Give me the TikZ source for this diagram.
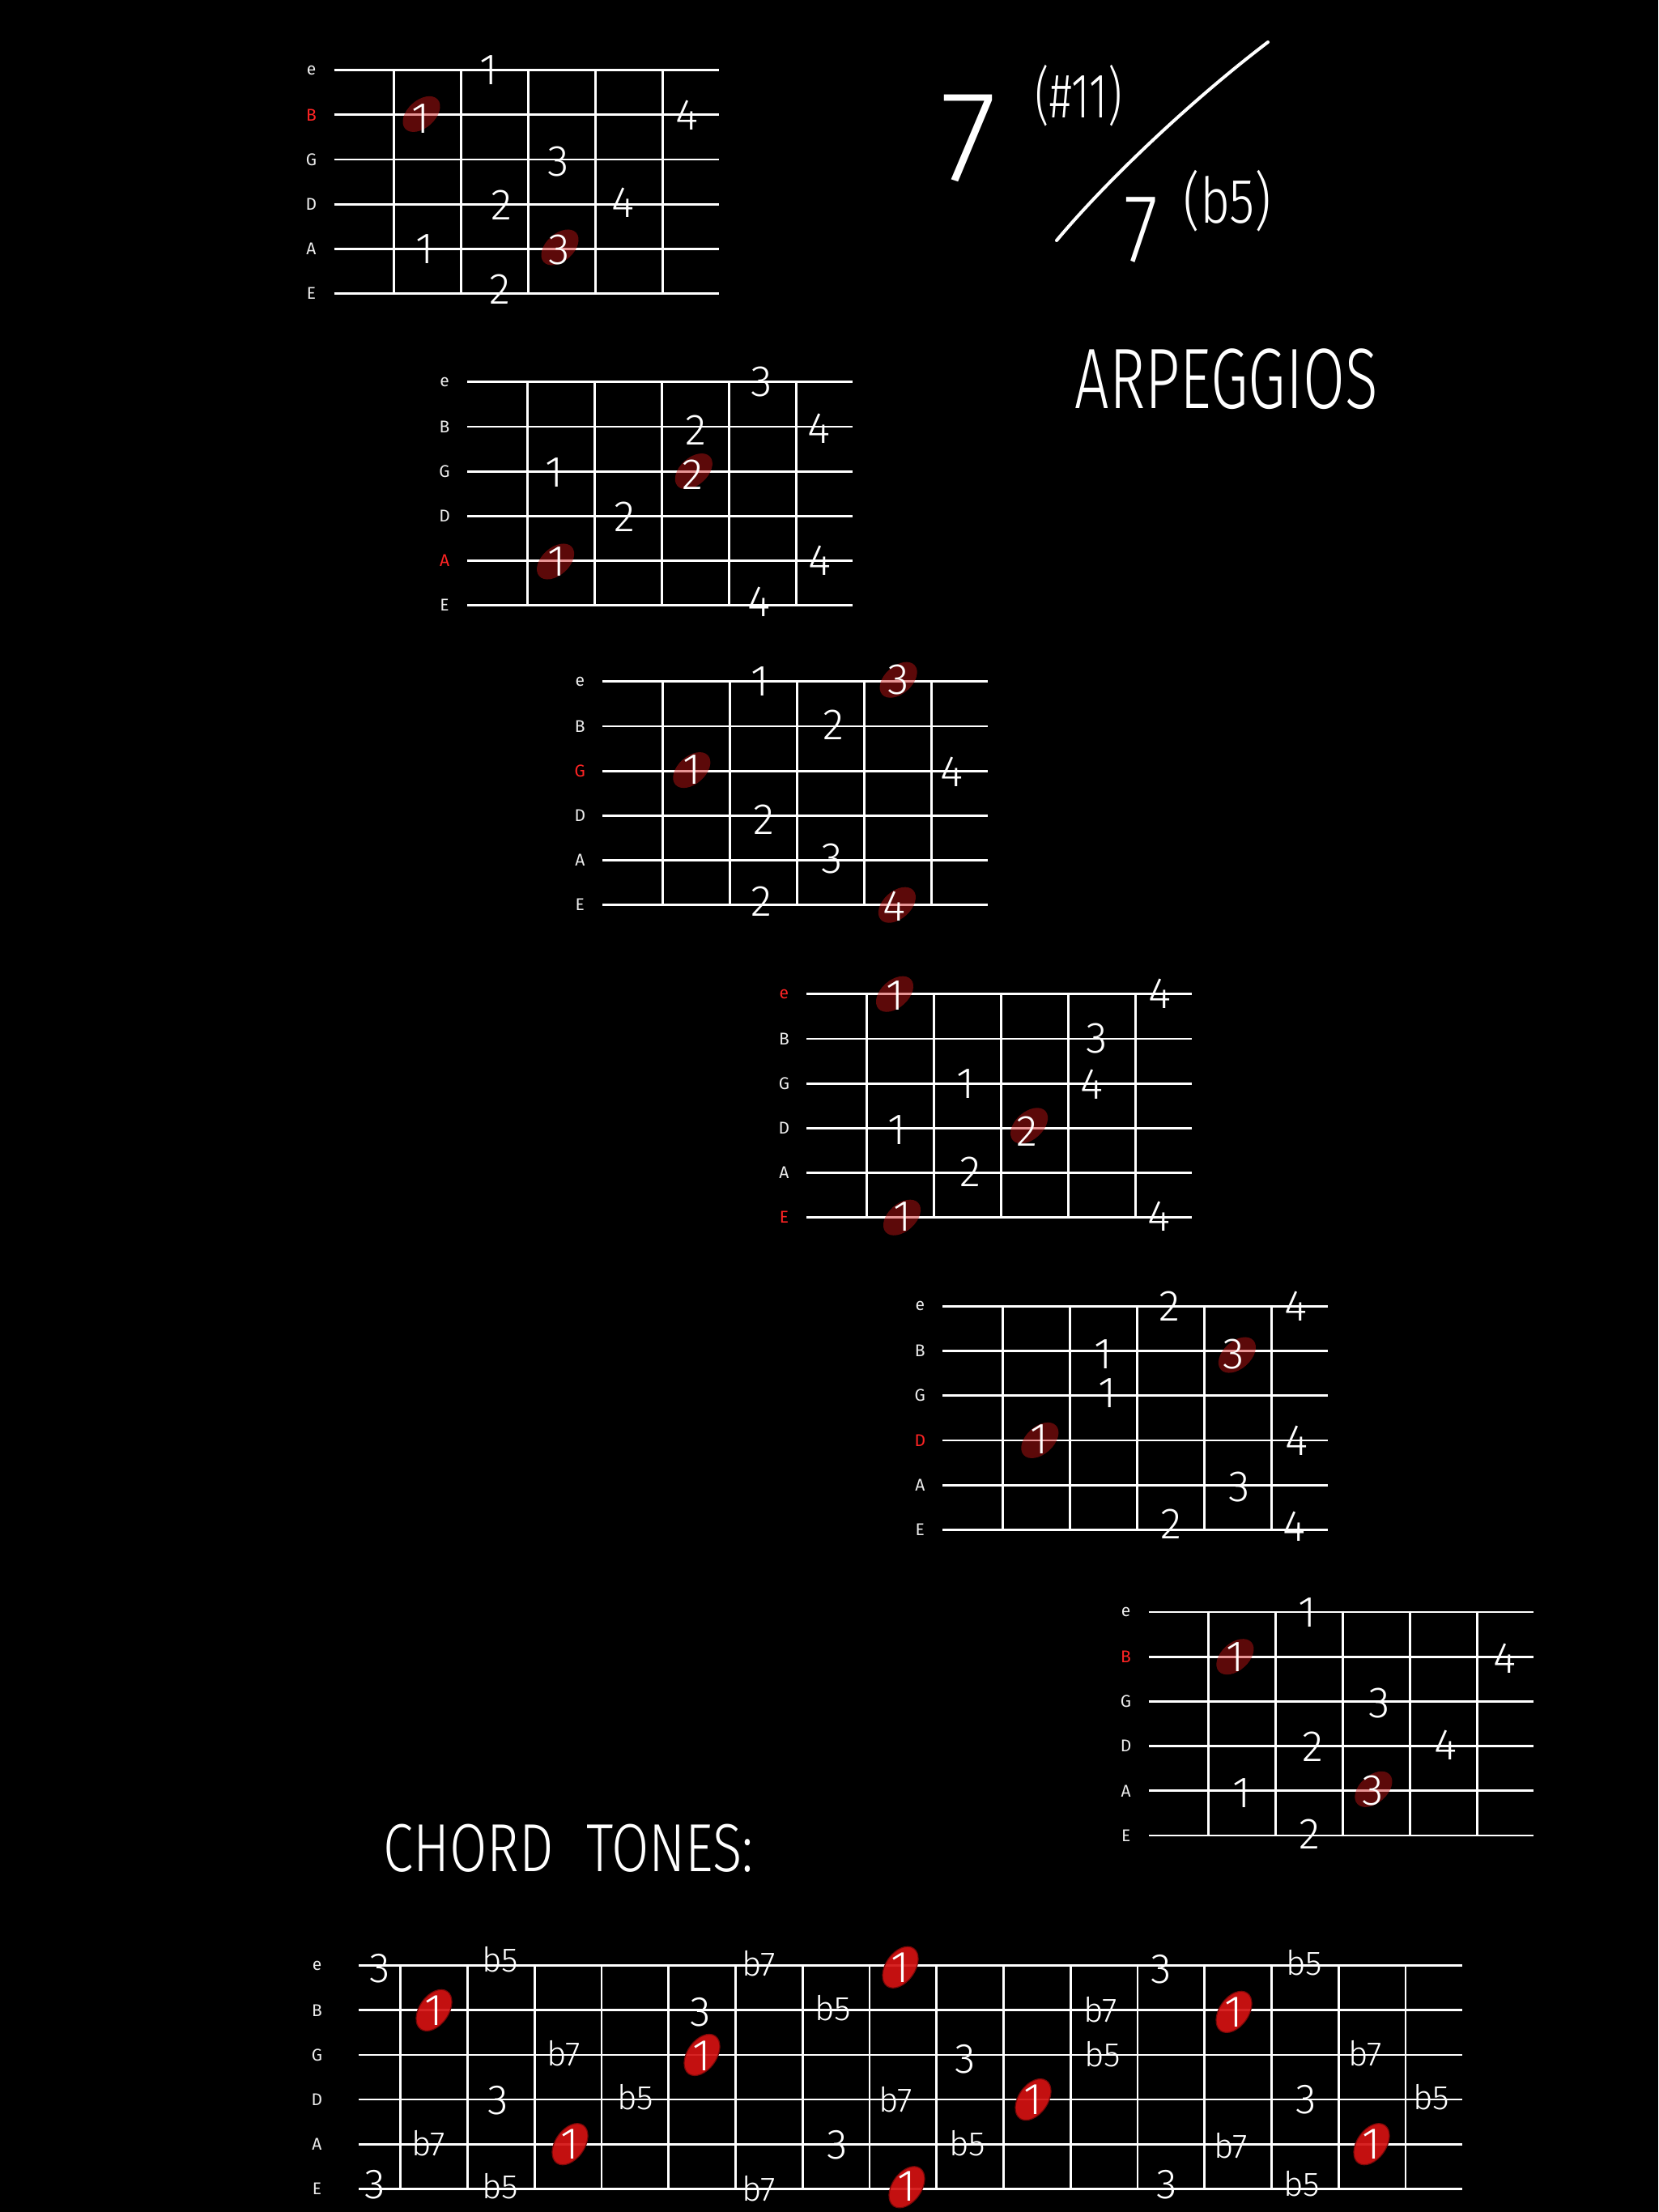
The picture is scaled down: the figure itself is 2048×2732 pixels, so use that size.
\documentclass[tikz,border=0pt]{standalone}
\usepackage{fontspec}
\usepackage{graphicx}
\newfontfamily\handfont{Fira Sans Light}
\newfontfamily\labfont{Fira Sans}
\usetikzlibrary{shapes.geometric}
\definecolor{rootred}{RGB}{255,36,36}
\definecolor{dotfill}{RGB}{205,22,22}
\definecolor{tonered}{RGB}{212,18,18}
\definecolor{toneedge}{RGB}{120,8,8}
\definecolor{labgray}{RGB}{236,236,236}
\tikzset{
  strline/.style={white, line width=2.8pt},
  fretline/.style={white, line width=2.8pt},
  lab/.style={font=\labfont\fontsize{21}{21}\selectfont, text=labgray, inner sep=0pt},
  rootlab/.style={lab, text=rootred},
  fingtxt/.style={font=\handfont\fontsize{54}{54}\selectfont, text=white, inner sep=0pt},
  darkdot/.style={ellipse, fill=dotfill, fill opacity=0.45, minimum width=54pt, minimum height=34pt, inner sep=0pt, rotate=42},
  tonedot/.style={ellipse, fill=tonered, fill opacity=0.92, draw=toneedge, line width=1.2pt, minimum width=57pt, minimum height=36pt, inner sep=0pt, rotate=55},
  tonetxt/.style={font=\handfont\fontsize{52}{52}\selectfont, text=white, inner sep=0pt},
  flattxt/.style={font=\handfont\fontsize{42}{42}\selectfont, text=white, inner sep=0pt},
  roottxt/.style={font=\handfont\fontsize{55}{55}\selectfont, text=white, inner sep=0pt},
  handtxt/.style={text=white, inner sep=0pt},
  pen/.style={white, line width=4pt, line cap=round},
}
% grid of one arpeggio box (inside a shifted scope)
\newcommand\fretgrid{%
  \foreach \s in {0,...,5} \draw[strline] (0,{\s*55.2}) -- (475.5,{\s*55.2});
  \foreach \f in {0,...,4} \draw[fretline] ({74+\f*83},-1.4) -- ({74+\f*83},277.4);
}
\newcommand\fg[5]{\node[fingtxt] (#1) at ({#2},{#3*55.2+(#4)}) {#5};}
\newcommand\spot[4]{\node[darkdot] (#1) at ({#2},{#3*55.2+(#4)}) {};}
\newcommand\tn[6]{\node[#6] (#1) at ({#2},{#3*55.12+(#4)}) {#5};}
\newcommand\rdot[4]{\node[tonedot] (#1) at ({#2},{#3*55.12+(#4)}) {};}
\begin{document}
\begin{tikzpicture}[x=1pt,y=-1pt]
\useasboundingbox (0,0) rectangle (2048,2732);
\fill[black] (0,0) rectangle (2048,2732);

% ---------- Diagram 1 (root B)
\begin{scope}[shift={(412.5,86.7)}]
  \fretgrid
  \foreach \s/\l/\st in {0/e/lab,1/B/rootlab,2/G/lab,3/D/lab,4/A/lab,5/E/lab}
    \node[\st] (da-\l) at (-28,{\s*55.2}) {\l};
  \spot{d1p1}{108}{1}{-1}
  \spot{d1p2}{279}{4}{-2}
  \fg{d1f1}{191}{0}{0}{1}
  \fg{d1f2}{107}{1}{5}{1}
  \fg{d1f3}{435.7}{1}{0}{4}
  \fg{d1f4}{276.8}{2}{2}{3}
  \fg{d1f5}{207}{3}{1}{2}
  \fg{d1f6}{357}{3}{-2}{4}
  \fg{d1f7}{112.5}{4}{0}{1}
  \fg{d1f8}{278.6}{4}{1}{3}
  \fg{d1f9}{205.4}{5}{-5}{2}
\end{scope}

% ---------- Diagram 2 (root A)
\begin{scope}[shift={(577.1,471.7)}]
  \fretgrid
  \foreach \s/\l/\st in {0/e/lab,1/B/lab,2/G/lab,3/D/lab,4/A/rootlab,5/E/lab}
    \node[\st] (db-\l) at (-28,{\s*55.2}) {\l};
  \spot{d2p1}{109}{4}{1}
  \spot{d2p2}{279.7}{2}{0}
  \fg{d2f1}{363.6}{0}{0}{3}
  \fg{d2f2}{282.2}{1}{4}{2}
  \fg{d2f3}{434}{1}{2}{4}
  \fg{d2f4}{107.2}{2}{1}{1}
  \fg{d2f5}{278.6}{2}{4}{2}
  \fg{d2f6}{194.7}{3}{1}{2}
  \fg{d2f7}{110.8}{4}{1}{1}
  \fg{d2f8}{435.8}{4}{0}{4}
  \fg{d2f9}{360.8}{5}{-4}{4}
\end{scope}

% ---------- Diagram 3 (root G)
\begin{scope}[shift={(744.3,841.7)}]
  \fretgrid
  \foreach \s/\l/\st in {0/e/lab,1/B/lab,2/G/rootlab,3/D/lab,4/A/lab,5/E/lab}
    \node[\st] (dc-\l) at (-28,{\s*55.2}) {\l};
  \spot{d3p1}{365.3}{0}{-2}
  \spot{d3p2}{110}{2}{-1}
  \spot{d3p3}{363.6}{5}{0}
  \fg{d3f1}{193.9}{0}{0}{1}
  \fg{d3f2}{365.3}{0}{-2}{3}
  \fg{d3f3}{285}{1}{-2}{2}
  \fg{d3f4}{110.7}{2}{-2}{1}
  \fg{d3f5}{431.4}{2}{1}{4}
  \fg{d3f6}{199.3}{3}{5}{2}
  \fg{d3f7}{283.2}{4}{-2}{3}
  \fg{d3f8}{195.7}{5}{-4}{2}
  \fg{d3f9}{360}{5}{2}{4}
\end{scope}

% ---------- Diagram 4 (root e / E)
\begin{scope}[shift={(996.4,1227.7)}]
  \fretgrid
  \foreach \s/\l/\st in {0/e/rootlab,1/B/lab,2/G/lab,3/D/lab,4/A/lab,5/E/rootlab}
    \node[\st] (dd-\l) at (-28,{\s*55.2}) {\l};
  \spot{d4p1}{108.6}{0}{0}
  \spot{d4p2}{274.7}{3}{-3}
  \spot{d4p3}{117.6}{5}{0}
  \fg{d4f1}{109.7}{0}{2}{1}
  \fg{d4f2}{436.5}{0}{0}{4}
  \fg{d4f3}{357.9}{1}{0}{3}
  \fg{d4f4}{196.1}{2}{0}{1}
  \fg{d4f5}{352.5}{2}{1}{4}
  \fg{d4f6}{111.5}{3}{2}{1}
  \fg{d4f7}{272.2}{3}{4}{2}
  \fg{d4f8}{202.5}{4}{-1}{2}
  \fg{d4f9}{117.9}{5}{-1}{1}
  \fg{d4f10}{434.6}{5}{-1}{4}
\end{scope}

% ---------- Diagram 5 (root D)
\begin{scope}[shift={(1164.3,1613.3)}]
  \fretgrid
  \foreach \s/\l/\st in {0/e/lab,1/B/lab,2/G/lab,3/D/rootlab,4/A/lab,5/E/lab}
    \node[\st] (de-\l) at (-28,{\s*55.2}) {\l};
  \spot{d5p1}{363.6}{1}{5}
  \spot{d5p2}{120}{3}{0}
  \fg{d5f1}{280.3}{0}{0}{2}
  \fg{d5f2}{435.7}{0}{0}{4}
  \fg{d5f3}{198.2}{1}{4}{1}
  \fg{d5f4}{358.9}{1}{4}{3}
  \fg{d5f5}{203.6}{2}{-3}{1}
  \fg{d5f6}{119.6}{3}{-1}{1}
  \fg{d5f7}{437.5}{3}{0}{4}
  \fg{d5f8}{366.1}{4}{2}{3}
  \fg{d5f9}{282.1}{5}{-7}{2}
  \fg{d5f10}{433.9}{5}{-4}{4}
\end{scope}

% ---------- Diagram 6 (root B)
\begin{scope}[shift={(1418.6,1991)}]
  \fretgrid
  \foreach \s/\l/\st in {0/e/lab,1/B/rootlab,2/G/lab,3/D/lab,4/A/lab,5/E/lab}
    \node[\st] (df-\l) at (-28,{\s*55.2}) {\l};
  \spot{d6p1}{106.8}{1}{0}
  \spot{d6p2}{277.8}{4}{-2}
  \fg{d6f1}{196.4}{0}{1}{1}
  \fg{d6f2}{107.1}{1}{0}{1}
  \fg{d6f3}{440}{1}{2}{4}
  \fg{d6f4}{284.6}{2}{2}{3}
  \fg{d6f5}{202.5}{3}{1}{2}
  \fg{d6f6}{366.8}{3}{-1}{4}
  \fg{d6f7}{115}{4}{3}{1}
  \fg{d6f8}{277.4}{4}{0}{3}
  \fg{d6f9}{198.9}{5}{-2}{2}
\end{scope}

% ---------- Chord symbol and titles
\node[handtxt, font=\handfont\fontsize{160}{160}\selectfont] (sevenup) at (1196,171) {7};
\node[handtxt, font=\handfont\fontsize{78}{78}\selectfont] (extup) at (1332,118) {\scalebox{0.7}[1]{(\#11)}};
\coordinate (slashlo) at (1305,297);
\coordinate (slashhi) at (1566,52);
\draw[pen] (slashlo) .. controls (1365,225) and (1470,125) .. (slashhi);
\node[handtxt, font=\handfont\fontsize{120}{120}\selectfont] (sevenlo) at (1409,284) {\scalebox{0.8}[1]{7}};
\node[handtxt, font=\handfont\fontsize{78}{78}\selectfont] (extlo) at (1516,248) {\scalebox{0.82}[1]{(b5)}};
\node[handtxt, font=\handfont\fontsize{106}{106}\selectfont] (arp) at (1515,468) {\scalebox{0.71}[1]{ARPEGGIOS}};
\node[handtxt, font=\handfont\fontsize{84}{84}\selectfont] (chord) at (702,2283) {\scalebox{0.8}[1]{CHORD\hspace{0.6em}TONES:}};

% ---------- Chord tones fretboard
\begin{scope}[shift={(0,2427.7)}]
  \foreach \s in {0,...,5} \draw[strline] (443,{\s*55.12}) -- (1806,{\s*55.12});
  \foreach \f in {0,...,15} \draw[fretline] ({494.8+\f*82.75},-1.4) -- ({494.8+\f*82.75},277);
  \foreach \s/\l in {0/e,1/B,2/G,3/D,4/A,5/E}
    \node[lab] (ct-\l) at (391.5,{\s*55.12}) {\l};
  \rdot{cr1}{1112}{0}{2}
  \rdot{cr2}{536}{1}{0}
  \rdot{cr3}{1524}{1}{2}
  \rdot{cr4}{867}{2}{0}
  \rdot{cr5}{1276}{3}{0}
  \rdot{cr6}{704}{4}{0}
  \rdot{cr7}{1694}{4}{0}
  \rdot{cr8}{1120}{5}{-2}
  % e
  \tn{t1}{469}{0}{3}{3}{tonetxt}
  \tn{t2}{618}{0}{-8}{b5}{flattxt}
  \tn{t3}{937}{0}{-3}{b7}{flattxt}
  \tn{t4}{1112}{0}{2}{1}{roottxt}
  \tn{t5}{1434}{0}{4}{3}{tonetxt}
  \tn{t6}{1611}{0}{-4}{b5}{flattxt}
  % B
  \tn{t7}{536}{1}{0}{1}{roottxt}
  \tn{t8}{865}{1}{2}{3}{tonetxt}
  \tn{t9}{1029}{1}{-3}{b5}{flattxt}
  \tn{t10}{1359}{1}{-1}{b7}{flattxt}
  \tn{t11}{1524}{1}{2}{1}{roottxt}
  % G
  \tn{t12}{696}{2}{-2}{b7}{flattxt}
  \tn{t13}{867}{2}{1}{1}{roottxt}
  \tn{t14}{1192}{2}{5}{3}{tonetxt}
  \tn{t15}{1362}{2}{-1}{b5}{flattxt}
  \tn{t16}{1686}{2}{-2}{b7}{flattxt}
  % D
  \tn{t17}{615}{3}{1}{3}{tonetxt}
  \tn{t18}{785}{3}{-3}{b5}{flattxt}
  \tn{t19}{1106}{3}{0}{b7}{flattxt}
  \tn{t20}{1276}{3}{0}{1}{roottxt}
  \tn{t21}{1613}{3}{0}{3}{tonetxt}
  \tn{t22}{1768}{3}{-3}{b5}{flattxt}
  % A
  \tn{t23}{529}{4}{-1}{b7}{flattxt}
  \tn{t24}{704}{4}{0}{1}{roottxt}
  \tn{t25}{1034}{4}{1}{3}{tonetxt}
  \tn{t26}{1195}{4}{-1}{b5}{flattxt}
  \tn{t27}{1520}{4}{2}{b7}{flattxt}
  \tn{t28}{1694}{4}{0}{1}{roottxt}
  % E
  \tn{t29}{463}{5}{-5}{3}{tonetxt}
  \tn{t30}{618}{5}{-3}{b5}{flattxt}
  \tn{t31}{937}{5}{0}{b7}{flattxt}
  \tn{t32}{1120}{5}{-3}{1}{roottxt}
  \tn{t33}{1441}{5}{-5}{3}{tonetxt}
  \tn{t34}{1608}{5}{-6}{b5}{flattxt}
\end{scope}
\end{tikzpicture}
\end{document}
